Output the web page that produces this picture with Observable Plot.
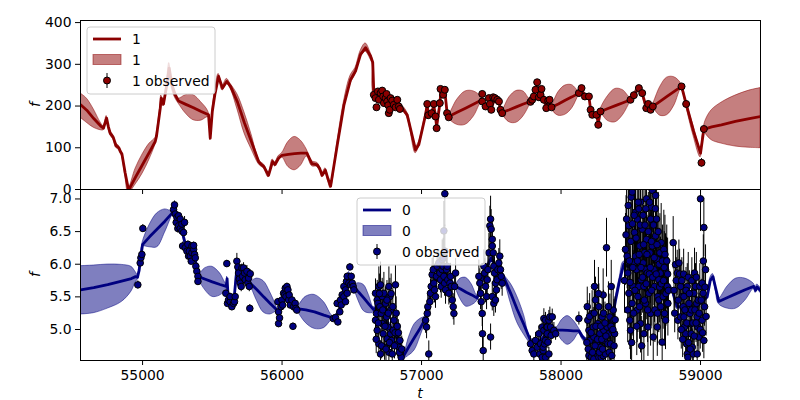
<!DOCTYPE html>
<html>
<head>
<meta charset="utf-8">
<script src="https://cdn.jsdelivr.net/npm/d3@7"></script>
<script src="https://cdn.jsdelivr.net/npm/@observablehq/plot@0.6"></script>
<style>
  body { margin: 0; background: #fff; }
  #fig { position: relative; width: 800px; height: 400px; font-family: "DejaVu Sans", sans-serif; background: #fff; overflow: hidden; }
  #fig svg { position: absolute; left: 0; overflow: visible; }
</style>
</head>
<body>
<div id="fig"></div>
<script>
// ---------------- DATA ----------------
const xTicks = [55000, 56000, 57000, 58000, 59000];
const yTicksTop = [0, 100, 200, 300, 400];
const yTicksBottom = [5.0, 5.5, 6.0, 6.5, 7.0];
const legendTop = ["1", "1", "1 observed"];
const legendBottom = ["0", "0", "0 observed"];

// series "1": predicted mean with band  [t, mean, lower, upper]
const line1 = [
  [54556,203,172,230],[54600,190,160,218],[54650,170,148,192],[54700,152,142,160],[54720,147,142,152],
  [54742,171,166,176],[54755,150,145,155],[54768,135,130,140],[54790,125,120,130],[54810,105,100,110],
  [54830,100,95,105],[54840,92,87,97],[54852,85,80,90],[54875,40,35,45],[54900,-2,-8,4],
  [54950,30,12,50],[55000,60,38,84],[55050,90,72,110],[55091,115,107,123],[55100,128,123,133],
  [55127,195,189,201],[55134,219,213,225],[55150,205,199,211],[55174,251,243,259],[55191,291,279,303],
  [55210,251,241,261],[55234,227,219,235],[55258,212,206,218],[55310,204,182,226],[55365,196,166,226],
  [55420,187,165,209],[55473,179,173,185],[55485,123,118,128],[55500,187,182,192],[55518,227,221,233],
  [55545,271,265,277],[55573,243,237,249],[55604,259,253,265],[55631,247,241,253],[55680,210,192,228],
  [55730,160,135,185],[55780,115,97,133],[55832,67,61,73],[55850,60,55,65],[55870,55,50,60],
  [55903,34,29,39],[55932,67,62,72],[55950,60,55,65],[55975,75,70,80],[56000,82,77,87],
  [56045,84,54,114],[56090,86,46,126],[56135,87,57,117],[56178,87,79,95],[56214,62,56,68],
  [56252,59,54,64],[56270,50,45,55],[56288,34,29,39],[56311,46,41,51],[56330,25,20,30],
  [56348,8,3,13],[56396,107,101,113],[56444,203,195,211],[56491,263,253,273],[56527,284,276,292],
  [56563,324,316,332],[56599,340,330,350],[56634,320,312,328],[56650,305,299,311],[56658,231,226,236],
  [56700,225,220,230],[56750,215,210,220],[56800,205,200,210],[56849,199,194,204],[56897,179,173,185],
  [56957,95,87,103],[56980,107,101,113],[57029,179,174,184],[57041,203,198,208],[57048,180,175,185],
  [57072,183,178,188],[57088,200,195,205],[57100,178,173,183],[57108,150,145,155],[57131,205,200,210],
  [57140,238,233,243],[57167,235,230,240],[57183,185,180,190],[57195,175,170,180],[57255,185,155,215],
  [57315,195,155,235],[57375,205,175,235],[57434,215,210,220],[57459,200,195,205],[57490,205,200,210],
  [57500,195,190,200],[57526,218,213,223],[57555,211,206,216],[57566,191,186,196],[57578,185,180,190],
  [57630,191,161,221],[57680,198,160,236],[57730,205,175,235],[57781,211,206,216],[57817,239,234,244],
  [57829,250,245,255],[57841,225,220,230],[57860,235,230,240],[57894,200,195,205],[57918,212,207,217],
  [57932,197,192,202],[57981,205,177,233],[58030,214,179,249],[58079,222,194,250],[58128,231,226,236],
  [58147,240,235,245],[58171,225,220,230],[58200,222,217,227],[58212,192,187,197],[58224,180,175,185],
  [58254,178,173,183],[58267,160,155,165],[58283,187,182,192],[58337,194,164,224],[58390,201,161,241],
  [58444,208,178,238],[58498,215,210,220],[58522,226,221,231],[58558,243,238,248],[58582,230,225,235],
  [58611,198,193,203],[58625,204,199,209],[58642,192,187,197],[58658,199,194,204],[58710,211,177,245],
  [58760,223,178,268],[58812,235,201,269],[58864,247,242,252],[58897,205,199,211],[58950,140,128,152],
  [59000,87,77,97],[59024,145,140,150],[59040,146,132,168],[59080,150,118,190],[59150,155,110,208],
  [59250,163,103,225],[59350,170,100,237],[59430,175,99,243]
];

// series "1": observed [t, f, err]
const obs1 = [
  [56658,227,4],[56670,219,4],[56677,197,4],[56687,235,4],[56694,215,4],[56706,231,4],[56718,237,4],
  [56725,223,4],[56730,207,4],[56742,219,4],[56749,229,4],[56754,211,4],[56761,202,4],[56765,183,4],
  [56772,191,4],[56778,219,4],[56790,213,4],[56801,203,4],[56814,197,4],[56826,215,4],[56837,199,4],
  [56845,193,4],
  [57041,205,4],[57048,178,4],[57072,183,4],[57088,205,4],[57100,175,4],[57108,147,4],[57131,207,4],
  [57136,241,4],[57155,227,4],[57167,239,4],[57183,183,4],[57195,173,4],
  [57435,229,4],[57435,211,4],[57459,199,4],[57483,219,4],[57490,205,4],[57500,191,4],[57514,221,4],
  [57526,219,4],[57543,215,4],[57555,211,4],[57566,191,4],[57578,183,4],
  [57781,210,4],[57793,215,4],[57805,223,4],[57817,239,4],[57829,257,4],[57841,221,4],[57853,227,4],
  [57860,241,4],[57877,215,4],[57894,195,4],[57908,213,4],[57918,215,4],[57932,197,4],
  [58128,231,4],[58147,243,4],[58171,223,4],[58200,223,4],[58212,191,4],[58224,179,4],[58254,179,4],
  [58267,155,4],[58283,187,4],
  [58498,215,4],[58522,226,4],[58558,243,4],[58582,231,4],[58611,195,4],[58625,205,4],[58642,191,4],
  [58658,199,4],
  [58864,247,5],[58897,205,5],[59007,64,10],[59024,145,5]
];

// series "0": predicted mean with band  [t, mean, lower, upper]
const line0 = [
  [54556,5.607,5.23,5.97],[54650,5.64,5.25,5.98],[54750,5.686,5.32,5.995],[54850,5.74,5.42,5.99],
  [54920,5.78,5.58,5.96],[54950,5.81,5.72,5.88],[54964,5.80,5.76,5.84],[54975,5.90,5.87,5.93],
  [54990,6.15,6.12,6.18],[55000,6.30,6.27,6.33],[55050,6.42,6.26,6.60],[55105,6.54,6.26,6.78],
  [55160,6.66,6.48,6.84],[55210,6.78,6.74,6.82],[55229,6.88,6.84,6.92],[55250,6.70,6.67,6.73],
  [55270,6.62,6.59,6.65],[55290,6.45,6.42,6.48],[55310,6.28,6.25,6.31],[55340,6.20,6.17,6.23],
  [55370,6.15,6.12,6.18],[55390,5.95,5.92,5.98],[55401,5.81,5.78,5.84],[55450,5.77,5.60,5.94],
  [55500,5.73,5.50,5.96],[55555,5.69,5.52,5.86],[55600,5.66,5.62,5.70],[55606,5.78,5.75,5.81],
  [55612,5.55,5.52,5.58],[55630,5.45,5.42,5.48],[55655,5.45,5.42,5.48],[55670,5.80,5.77,5.83],
  [55680,6.00,5.97,6.03],[55700,5.80,5.77,5.83],[55720,5.85,5.82,5.88],[55740,5.82,5.79,5.85],
  [55760,5.75,5.72,5.78],[55772,5.71,5.68,5.74],[55820,5.61,5.44,5.78],[55868,5.50,5.26,5.74],
  [55915,5.40,5.23,5.57],[55963,5.30,5.27,5.33],[55975,5.20,5.17,5.23],[55995,5.40,5.37,5.43],
  [56020,5.60,5.57,5.63],[56040,5.60,5.57,5.63],[56060,5.42,5.39,5.45],[56080,5.38,5.35,5.41],
  [56106,5.32,5.29,5.35],[56170,5.30,5.10,5.50],[56233,5.27,5.01,5.53],[56300,5.22,5.02,5.42],
  [56360,5.18,5.15,5.21],[56380,5.18,5.15,5.21],[56400,5.25,5.22,5.28],[56420,5.35,5.32,5.38],
  [56440,5.58,5.55,5.61],[56460,5.72,5.69,5.75],[56480,5.85,5.82,5.88],[56500,5.72,5.69,5.75],
  [56515,5.66,5.63,5.69],[56550,5.57,5.43,5.71],[56587,5.48,5.28,5.68],[56622,5.39,5.25,5.53],
  [56658,5.30,5.26,5.34],[56700,5.40,5.35,5.45],[56750,5.10,5.05,5.15],[56800,5.00,4.95,5.05],
  [56850,4.70,4.65,4.75],[56873,4.60,4.56,4.64],[56910,4.74,4.60,4.88],[56950,4.88,4.68,5.08],
  [56990,5.02,4.88,5.16],[57029,5.17,5.13,5.21],[57060,5.50,5.46,5.54],[57100,5.75,5.71,5.79],
  [57130,5.90,5.86,5.94],[57170,5.85,5.81,5.89],[57210,5.75,5.71,5.79],[57244,5.66,5.62,5.70],
  [57280,5.62,5.46,5.78],[57320,5.57,5.35,5.79],[57360,5.53,5.37,5.69],[57399,5.48,5.44,5.52],
  [57420,5.65,5.61,5.69],[57450,5.85,5.81,5.89],[57480,6.00,5.96,6.04],[57500,6.10,6.06,6.14],
  [57530,5.95,5.91,5.99],[57560,5.90,5.86,5.94],[57590,5.80,5.76,5.84],[57640,5.55,5.40,5.70],
  [57685,5.31,5.11,5.51],[57735,5.07,4.92,5.22],[57781,4.83,4.79,4.87],[57820,4.80,4.76,4.84],
  [57860,4.85,4.81,4.89],[57900,4.95,4.91,4.99],[57940,5.00,4.96,5.04],[57968,4.99,4.95,5.03],
  [58008,4.99,4.83,5.15],[58048,4.985,4.765,5.205],[58088,4.98,4.82,5.14],[58128,4.98,4.94,5.02],
  [58150,4.90,4.86,4.94],[58178,4.83,4.79,4.87],[58220,4.85,4.81,4.89],[58270,4.90,4.86,4.94],
  [58320,5.00,4.96,5.04],[58370,5.20,5.16,5.24],[58391,5.45,5.41,5.49],[58420,5.75,5.71,5.79],
  [58450,6.00,5.96,6.04],[58500,5.95,5.91,5.99],[58550,5.90,5.86,5.94],[58600,5.92,5.88,5.96],
  [58650,5.88,5.84,5.92],[58700,5.85,5.81,5.89],[58760,5.70,5.66,5.74],[58797,5.60,5.56,5.64],
  [58833,5.35,5.31,5.39],[58870,5.35,5.31,5.39],[58920,5.30,5.26,5.34],[58970,5.35,5.31,5.39],
  [59020,5.45,5.41,5.49],[59048,5.50,5.46,5.54],[59070,5.75,5.71,5.79],[59089,5.81,5.77,5.85],
  [59110,5.62,5.58,5.66],[59131,5.43,5.39,5.47],[59194,5.49,5.32,5.66],[59256,5.55,5.32,5.78],
  [59320,5.61,5.44,5.78],[59382,5.66,5.62,5.70],[59395,5.60,5.56,5.64],[59406,5.65,5.61,5.69],
  [59430,5.60,5.56,5.64]
];

// series "0": observed [t, f, err], grouped by observing season
const obs0a = [
  [54966,5.684,0.06],[54983,6.020,0.05],[54988,6.098,0.05],[54995,6.150,0.05],[55002,6.548,0.06],
  [55222,6.837,0.05],[55229,6.909,0.06],[55234,6.770,0.05],[55241,6.641,0.08],[55246,6.718,0.05],
  [55253,6.548,0.07],[55258,6.744,0.05],[55258,6.589,0.06],[55270,6.692,0.05],[55270,6.548,0.08],
  [55282,6.615,0.06],[55282,6.511,0.07],[55294,6.486,0.06],[55301,6.641,0.09],
  [55287,6.279,0.06],[55306,6.253,0.05],[55318,6.201,0.06],[55325,6.305,0.05],[55330,6.124,0.06],
  [55335,6.201,0.05],[55342,6.124,0.06],[55349,6.046,0.05],[55354,6.279,0.05],[55354,6.175,0.06],
  [55366,6.227,0.05],[55366,6.289,0.05],[55373,6.150,0.06],[55378,6.098,0.05],[55382,5.969,0.05],
  [55389,5.891,0.05],[55397,5.814,0.05],[55397,5.736,0.05]
];
const obs0b = [
  [55597,5.555,0.05],[55604,6.010,0.05],[55609,5.400,0.05],[55616,5.452,0.05],[55628,5.426,0.06],
  [55628,5.504,0.05],[55640,5.349,0.06],[55652,5.400,0.05],[55659,5.426,0.05],[55664,5.504,0.05],
  [55676,6.046,0.12],[55683,5.958,0.08],[55688,5.865,0.07],[55693,5.772,0.08],[55700,5.710,0.07],
  [55707,5.659,0.08],[55712,5.943,0.06],[55717,5.814,0.07],[55724,5.943,0.08],[55731,5.865,0.07],
  [55736,5.762,0.06],[55748,5.891,0.09],[55755,5.710,0.07],[55760,5.788,0.06],[55765,5.659,0.08],
  [55772,5.855,0.06],[55769,5.323,0.06],
  [55970,5.426,0.05],[55975,5.271,0.05],[55975,5.090,0.06],[55982,5.178,0.05],[55992,5.349,0.05],
  [55999,5.452,0.05],[56004,5.375,0.05],[56011,5.555,0.05],[56018,5.529,0.05],[56023,5.633,0.05],
  [56028,5.504,0.05],[56035,5.659,0.05],[56042,5.607,0.05],[56047,5.452,0.05],[56051,5.529,0.05],
  [56059,5.375,0.05],[56071,5.452,0.05],[56078,5.049,0.05],[56083,5.349,0.05],[56094,5.400,0.05],
  [56099,5.323,0.05],[56106,5.297,0.05]
];
const obs0c = [
  [56367,5.168,0.05],[56383,5.183,0.05],[56395,5.400,0.05],[56400,5.116,0.06],[56414,5.271,0.05],
  [56419,5.452,0.05],[56424,5.375,0.06],[56431,5.530,0.05],[56443,5.659,0.05],[56443,5.504,0.06],
  [56455,5.607,0.05],[56455,5.426,0.05],[56462,5.736,0.05],[56467,5.814,0.05],[56467,5.555,0.05],
  [56479,5.710,0.05],[56486,5.958,0.05],[56491,5.684,0.05],[56496,5.814,0.05],[56503,5.710,0.05],
  [56510,5.659,0.05],[56515,5.607,0.05],
  [56670,5.555,0.22],[56670,5.142,0.25],[56677,5.245,0.2],[56682,5.452,0.3],[56682,4.987,0.25],
  [56687,5.400,0.22],[56694,5.659,0.3],[56694,4.780,0.2],[56701,5.349,0.25],[56706,5.684,0.35],
  [56706,4.625,0.2],[56711,5.245,0.3],[56718,5.090,0.22],[56718,5.504,0.28],[56725,4.935,0.25],
  [56730,5.555,0.32],[56735,4.728,0.2],[56742,5.400,0.25],[56749,5.193,0.22],[56754,4.857,0.2],
  [56758,5.038,0.25],[56766,5.659,0.3],[56766,4.651,0.2],[56773,5.504,0.28],[56778,5.297,0.25],
  [56778,4.935,0.22],[56785,4.832,0.2],[56790,4.625,0.2],[56797,4.987,0.25],[56802,5.142,0.22],
  [56813,5.684,0.3],[56821,4.935,0.22],[56830,4.780,0.2],[56837,4.728,0.2],[56845,4.832,0.22],
  [56849,4.625,0.2],[56854,4.573,0.18],
  [56675,4.85,0.22],[56690,5.10,0.25],[56698,5.55,0.3],[56714,4.75,0.2],[56722,5.30,0.28],
  [56738,5.05,0.25],[56745,4.70,0.2],[56752,5.45,0.3],[56762,5.25,0.25],[56770,4.80,0.2],
  [56782,5.55,0.3],[56794,5.35,0.28],[56806,4.75,0.2],[56810,4.95,0.22],[56818,5.25,0.25],
  [56826,5.05,0.22],[56834,4.95,0.2],[56841,4.65,0.2],[56858,4.70,0.2]
];
const obs0d = [
  [57029,5.142,0.2],[57036,5.038,0.18],[57041,5.245,0.2],[57045,5.349,0.22],[57052,4.625,0.2],
  [57060,5.426,0.2],[57064,5.555,0.22],[57069,5.659,0.2],[57076,5.840,0.25],[57084,5.917,0.22],
  [57088,5.710,0.2],[57093,5.607,0.2],[57100,5.504,0.18],[57107,5.814,0.22],[57112,5.969,0.25],
  [57124,6.020,0.2],[57131,5.865,0.22],[57136,5.762,0.2],[57141,5.659,0.18],[57148,5.917,0.25],
  [57148,6.072,0.3],[57155,5.969,0.22],[57155,6.098,0.3],[57160,5.814,0.2],[57160,6.511,0.45],
  [57165,5.710,0.2],[57167,6.201,0.4],[57167,7.080,0.5],[57172,5.607,0.22],[57179,5.917,0.25],
  [57184,5.969,0.2],[57188,5.762,0.2],[57196,5.555,0.18],[57203,5.710,0.22],[57208,5.814,0.2],
  [57213,5.659,0.2],[57220,5.452,0.2],[57227,5.349,0.2],[57232,5.245,0.18],[57237,5.659,0.2],
  [57244,5.865,0.22],
  [57411,5.814,0.25],[57418,5.710,0.22],[57423,5.555,0.25],[57428,5.426,0.22],[57435,5.245,0.2],
  [57437,4.935,0.25],[57442,4.677,0.2],[57447,5.969,0.25],[57452,5.865,0.22],[57459,5.659,0.25],
  [57466,5.504,0.2],[57471,5.762,0.25],[57476,5.917,0.28],[57483,6.175,0.3],[57490,6.589,0.3],
  [57495,6.692,0.35],[57495,4.884,0.2],[57499,6.537,0.3],[57507,6.382,0.28],[57507,5.504,0.22],
  [57507,6.279,0.25],[57514,6.175,0.25],[57518,5.969,0.22],[57518,5.400,0.2],[57523,5.865,0.25],
  [57530,5.710,0.22],[57530,5.452,0.2],[57537,5.607,0.2],[57542,5.762,0.22],[57547,5.917,0.25],
  [57554,6.020,0.22],[57561,6.124,0.25],[57566,5.917,0.22],[57571,5.814,0.2],[57578,5.710,0.2]
];
const obs0e = [
  [57781,4.780,0.12],[57793,4.677,0.1],[57805,4.625,0.12],[57817,4.832,0.12],[57829,4.728,0.1],
  [57841,4.935,0.12],[57848,4.625,0.1],[57853,4.780,0.12],[57865,4.573,0.1],[57865,5.038,0.12],
  [57872,4.677,0.1],[57872,4.728,0.12],[57877,4.987,0.12],[57877,5.168,0.15],[57882,4.780,0.1],
  [57889,4.832,0.12],[57889,5.142,0.12],[57889,4.573,0.1],[57896,5.038,0.12],[57901,5.038,0.15],
  [57901,4.935,0.12],[57906,4.806,0.1],[57913,5.142,0.15],[57913,4.625,0.1],[57920,5.193,0.15],
  [57925,5.038,0.12],[57929,4.909,0.12],[57937,5.193,0.12],[57949,4.987,0.12],[57961,4.935,0.1],
  [58128,5.168,0.1]
];
const obs0f = [
  [58188,5.349,0.3],[58192,5.142,0.3],[58200,4.987,0.28],[58200,4.599,0.25],[58207,4.832,0.3],
  [58211,4.677,0.28],[58216,4.573,0.25],[58223,5.245,0.35],[58231,5.038,0.3],[58235,4.884,0.3],
  [58235,4.548,0.25],[58240,5.659,0.4],[58247,5.452,0.35],[58255,4.780,0.3],[58259,4.625,0.28],
  [58264,5.090,0.32],[58271,5.349,0.35],[58271,4.573,0.25],[58278,4.935,0.3],[58283,4.728,0.3],
  [58288,4.573,0.25],[58295,5.193,0.35],[58302,5.529,0.4],[58302,4.599,0.25],[58307,4.987,0.3],
  [58312,4.832,0.3],[58319,4.625,0.28],[58326,6.253,0.45],[58331,5.038,0.32],[58336,4.780,0.3],
  [58343,4.935,0.3],[58350,5.193,0.35],[58355,4.780,0.3],[58360,5.659,0.4],[58367,4.987,0.32],
  [58374,5.297,0.35],[58379,5.142,0.32],[58384,4.935,0.3],
  [58185,4.80,0.3],[58195,4.70,0.28],[58205,5.20,0.35],[58215,4.95,0.3],[58226,4.65,0.28],
  [58238,5.25,0.35],[58244,4.75,0.3],[58250,5.05,0.32],[58262,4.85,0.3],[58268,5.55,0.4],
  [58275,4.65,0.28],[58285,5.05,0.32],[58292,4.85,0.3],[58298,4.70,0.28],[58305,5.25,0.35],
  [58315,5.10,0.32],[58322,4.90,0.3],[58340,5.35,0.38],[58346,4.65,0.28],[58358,5.05,0.32],
  [58364,4.60,0.28],[58372,5.00,0.3],[58380,4.75,0.3],[58388,5.15,0.35]
];
const obs0g = [
  [58462,6.227,0.55],[58470,6.692,0.6],[58474,6.124,0.5],[58479,5.865,0.55],[58486,5.555,0.5],
  [58486,6.589,0.6],[58493,5.142,0.45],[58498,4.987,0.45],[58503,7.028,0.65],[58510,7.106,0.65],
  [58510,5.400,0.5],[58517,5.659,0.55],[58522,6.020,0.6],[58527,6.486,0.6],[58534,6.124,0.55],
  [58534,6.796,0.65],[58541,5.917,0.55],[58546,6.692,0.6],[58546,5.297,0.5],[58551,5.504,0.55],
  [58558,6.847,0.65],[58558,5.659,0.55],[58565,6.279,0.6],[58570,5.090,0.45],[58570,6.951,0.65],
  [58575,5.762,0.55],[58582,6.537,0.6],[58589,6.020,0.6],[58594,5.659,0.55],[58594,4.935,0.45],
  [58599,6.175,0.6],[58606,5.400,0.5],[58606,5.917,0.55],[58613,6.382,0.6],[58613,7.002,0.65],
  [58618,5.865,0.55],[58623,5.038,0.45],[58630,5.555,0.55],[58637,6.175,0.6],[58642,5.245,0.5],
  [58642,6.692,0.6],[58646,6.873,0.65],[58654,7.132,0.65],[58654,6.279,0.6],[58661,4.884,0.45],
  [58666,5.917,0.55],[58670,5.659,0.55],[58678,6.434,0.6],[58678,7.054,0.65],[58685,6.692,0.6],
  [58690,6.072,0.6],[58690,5.038,0.45],[58694,5.504,0.55],[58701,5.762,0.55],[58701,5.452,0.5],
  [58709,6.175,0.6],[58713,5.865,0.55],[58718,6.330,0.6],[58725,4.806,0.45],[58732,5.504,0.5],
  [58737,6.227,0.6],[58742,5.245,0.5],[58749,5.142,0.45],[58749,5.917,0.55],[58756,5.865,0.55],
  [58761,5.659,0.5],[58766,5.400,0.5],
  [58455,5.75,0.5],[58466,6.45,0.6],[58478,5.30,0.5],[58482,6.90,0.65],[58490,6.05,0.55],
  [58495,5.72,0.55],[58500,6.35,0.6],[58506,4.80,0.45],[58512,6.62,0.6],[58515,5.95,0.55],
  [58520,5.25,0.5],[58525,6.75,0.65],[58530,5.60,0.55],[58538,6.40,0.6],[58543,5.05,0.45],
  [58548,6.05,0.55],[58553,6.95,0.65],[58560,6.15,0.6],[58563,5.35,0.5],[58568,6.60,0.6],
  [58573,5.95,0.55],[58578,4.75,0.45],[58585,5.80,0.55],[58588,6.75,0.65],[58592,6.30,0.6],
  [58597,5.45,0.5],[58602,6.60,0.6],[58608,6.85,0.65],[58611,5.70,0.55],[58616,6.15,0.6],
  [58621,5.30,0.5],[58626,6.50,0.6],[58633,5.85,0.55],[58635,6.95,0.65],[58640,5.95,0.55],
  [58648,6.35,0.6],[58650,5.60,0.55],[58657,5.80,0.55],[58663,6.60,0.6],[58668,6.10,0.6],
  [58673,5.30,0.5],[58676,6.85,0.65],[58682,5.85,0.55],[58688,6.30,0.6],[58692,5.25,0.5],
  [58697,6.50,0.6],[58704,6.00,0.55],[58707,5.65,0.55],[58715,5.35,0.5],[58720,5.70,0.55],
  [58727,6.05,0.55],[58735,5.75,0.55],[58740,5.95,0.55],[58745,6.15,0.6],[58752,5.55,0.5],
  [58758,6.05,0.55],[58764,5.85,0.55],[58770,5.60,0.5]
];
const obs0h = [
  [58804,6.330,0.4],[58821,5.995,0.35],[58833,5.865,0.35],[58838,5.142,0.3],[58845,6.020,0.35],
  [58857,5.659,0.35],[58857,5.193,0.3],[58869,5.504,0.35],[58876,5.349,0.3],[58881,5.193,0.3],
  [58881,5.504,0.35],[58885,5.038,0.3],[58893,4.935,0.3],[58900,4.780,0.28],[58905,4.625,0.25],
  [58905,5.659,0.35],[58909,4.573,0.25],[58917,5.400,0.35],[58924,5.245,0.3],[58929,5.090,0.3],
  [58933,4.935,0.3],[58941,4.728,0.28],[58941,5.555,0.35],[58948,4.625,0.25],[58952,5.555,0.35],
  [58957,5.865,0.38],[58964,5.659,0.35],[58972,5.400,0.3],[58976,5.193,0.3],[58976,4.625,0.25],
  [58981,5.038,0.3],[58988,4.884,0.28],[58995,5.659,0.35],[59000,7.002,0.5],[59012,5.710,0.35],
  [59012,5.142,0.3],[59019,5.555,0.35],[59024,6.563,0.45],[59024,4.832,0.28],[59029,5.349,0.3],
  [59036,5.917,0.38],
  [58810,5.60,0.35],[58815,5.25,0.3],[58826,5.75,0.35],[58840,5.45,0.32],[58850,5.85,0.38],
  [58862,5.00,0.3],[58866,5.75,0.35],[58872,4.85,0.28],[58879,5.85,0.38],[58888,5.30,0.32],
  [58896,5.60,0.35],[58902,5.10,0.3],[58912,5.80,0.38],[58914,4.80,0.28],[58920,5.55,0.35],
  [58926,4.70,0.28],[58936,5.30,0.32],[58938,5.75,0.35],[58945,5.10,0.3],[58955,4.90,0.3],
  [58960,5.30,0.32],[58968,5.10,0.3],[58970,5.80,0.38],[58984,5.45,0.32],[58990,5.25,0.3],
  [58998,5.00,0.3],[59005,5.45,0.32],[59015,4.95,0.3],[59020,6.05,0.4],[59032,5.65,0.35],
  [59040,5.20,0.3]
];

// ---------------- BUILD ----------------
const toLine = rows => rows.map(([t, m, lo, hi]) => ({t, m, lo, hi}));
const toObs = rows => rows.map(([t, f, e]) => ({t, f, e}));
const L1 = toLine(line1), O1 = toObs(obs1);
const L0 = toLine(line0);
const O0 = toObs([...obs0a, ...obs0b, ...obs0c, ...obs0d, ...obs0e, ...obs0f, ...obs0g, ...obs0h]);

const RED = "#8b0000", NAVY = "#000080";
const xDomain = [54555, 59430];
const font = {fontFamily: "DejaVu Sans, sans-serif", fontSize: "13.9px", overflow: "visible", background: "transparent", color: "black"};

const fig = document.getElementById("fig");

const bottomPlot = Plot.plot({
  width: 800, height: 211, marginLeft: 80, marginRight: 40, marginTop: 0, marginBottom: 40,
  x: {domain: xDomain},
  y: {domain: [4.525, 7.145]},
  style: font,
  marks: [
    Plot.areaY(L0, {x: "t", y1: "lo", y2: "hi", fill: NAVY, fillOpacity: 0.5, stroke: NAVY, strokeOpacity: 0.5, strokeWidth: 1, curve: "catmull-rom", clip: true}),
    Plot.lineY(L0, {x: "t", y: "m", stroke: NAVY, strokeWidth: 2.8, clip: true}),
    Plot.ruleX(O0, {x: "t", y1: d => d.f - d.e, y2: d => d.f + d.e, stroke: "black", strokeWidth: 1, clip: true}),
    Plot.dot(O0, {x: "t", y: "f", r: 3.3, fill: NAVY, stroke: "black", strokeWidth: 1, clip: true}),
    Plot.frame({stroke: "black", strokeWidth: 1}),
    Plot.axisY({ticks: yTicksBottom, tickFormat: d3.format(".1f"), tickSize: 5, tickPadding: 4, label: null}),
    Plot.axisX({ticks: xTicks, tickFormat: d3.format("d"), tickSize: 5, tickPadding: 5, label: null})
  ]
});
bottomPlot.style.top = "189px";
fig.appendChild(bottomPlot);

const topPlot = Plot.plot({
  width: 800, height: 189, marginLeft: 80, marginRight: 40, marginTop: 20, marginBottom: 0,
  x: {domain: xDomain},
  y: {domain: [0, 405]},
  style: font,
  marks: [
    Plot.areaY(L1, {x: "t", y1: "lo", y2: "hi", fill: RED, fillOpacity: 0.5, stroke: RED, strokeOpacity: 0.5, strokeWidth: 1, curve: "catmull-rom", clip: true}),
    Plot.lineY(L1, {x: "t", y: "m", stroke: RED, strokeWidth: 2.8, clip: true}),
    Plot.ruleX(O1, {x: "t", y1: d => d.f - d.e, y2: d => d.f + d.e, stroke: "black", strokeWidth: 1, clip: true}),
    Plot.dot(O1, {x: "t", y: "f", r: 3.5, fill: RED, stroke: "black", strokeWidth: 1, clip: true}),
    Plot.frame({stroke: "black", strokeWidth: 1}),
    Plot.axisY({ticks: yTicksTop, tickFormat: d3.format("d"), tickSize: 5, tickPadding: 4, label: null}),
    Plot.axisX({ticks: xTicks, tickFormat: () => "", tickSize: 5, label: null})
  ]
});
topPlot.style.top = "0px";
fig.appendChild(topPlot);

// overlay: axis labels and legends
const NS = "http://www.w3.org/2000/svg";
const ov = document.createElementNS(NS, "svg");
ov.setAttribute("width", 800); ov.setAttribute("height", 400);
ov.style.top = "0px";
ov.setAttribute("font-family", "DejaVu Sans, sans-serif");
ov.setAttribute("font-size", "13.9");
fig.appendChild(ov);
function el(tag, attrs, text) {
  const e = document.createElementNS(NS, tag);
  for (const k in attrs) e.setAttribute(k, attrs[k]);
  if (text != null) e.textContent = text;
  ov.appendChild(e);
  return e;
}
// axis labels
el("text", {x: 420, y: 398, "text-anchor": "middle", "font-style": "italic"}, "t");
el("text", {x: 0, y: 0, transform: "translate(36,104.5) rotate(-90)", "text-anchor": "middle", "dominant-baseline": "middle", "font-style": "italic"}, "f");
el("text", {x: 0, y: 0, transform: "translate(36,274.5) rotate(-90)", "text-anchor": "middle", "dominant-baseline": "middle", "font-style": "italic"}, "f");

function legend(x0, y0, color, labels) {
  el("rect", {x: x0, y: y0, width: 128, height: 67, rx: 3, fill: "white", "fill-opacity": 0.8, stroke: "#cccccc", "stroke-width": 1});
  const sx = x0 + 6, sw = 28, tx = x0 + 45;
  el("line", {x1: sx, x2: sx + sw, y1: y0 + 12, y2: y0 + 12, stroke: color, "stroke-width": 2.8});
  el("text", {x: tx, y: y0 + 12, "dominant-baseline": "central"}, labels[0]);
  el("rect", {x: sx, y: y0 + 27.5, width: sw, height: 10, fill: color, "fill-opacity": 0.5, stroke: color, "stroke-opacity": 0.5});
  el("text", {x: tx, y: y0 + 32.5, "dominant-baseline": "central"}, labels[1]);
  el("line", {x1: sx + sw / 2, x2: sx + sw / 2, y1: y0 + 46, y2: y0 + 61, stroke: "black", "stroke-width": 1});
  el("circle", {cx: sx + sw / 2, cy: y0 + 53.5, r: 3.5, fill: color, stroke: "black", "stroke-width": 1});
  el("text", {x: tx, y: y0 + 53.5, "dominant-baseline": "central"}, labels[2]);
}
legend(87, 27, RED, legendTop);
legend(357, 198, NAVY, legendBottom);
</script>
</body>
</html>
